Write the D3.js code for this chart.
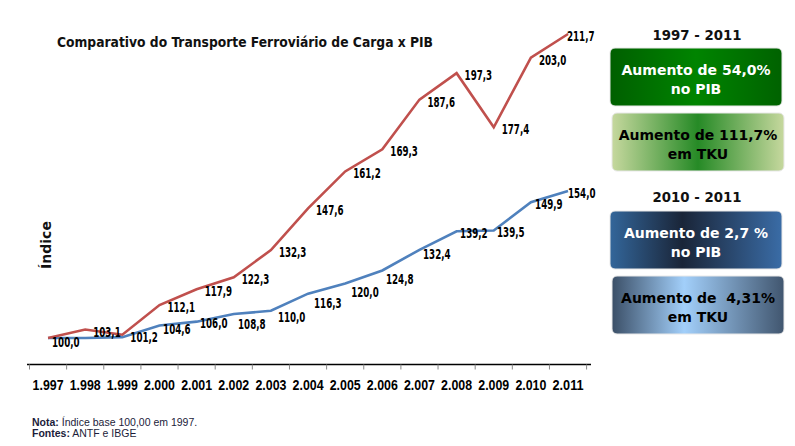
<!DOCTYPE html>
<html><head><meta charset="utf-8">
<script src="https://cdn.jsdelivr.net/npm/d3@7"></script>
<style>body{margin:0;background:#fff}svg{display:block}</style>
</head><body>
<svg id="c" width="795" height="446"></svg>
<script>
// ---- data ----
const years = ["1.997","1.998","1.999","2.000","2.001","2.002","2.003","2.004","2.005","2.006","2.007","2.008","2.009","2.010","2.011"];
const tku = [100.0,103.1,101.2,112.1,117.9,122.3,132.3,147.6,161.2,169.3,187.6,197.3,177.4,203.0,211.7];
const pib = [100.0,100.0,100.3,104.6,106.0,108.8,110.0,116.3,120.0,124.8,132.4,139.2,139.5,149.9,154.0];
const tkuLabelled = [1,2,3,4,5,6,7,8,9,10,11,12,13,14];
const pibLabelled = [0,3,4,5,6,7,8,9,10,11,12,13,14];
const title = "Comparativo do Transporte Ferroviário de Carga x PIB";
const yTitle = "Índice";
const panels = [
  {head:"1997 - 2011", boxes:[["Aumento de 54,0%","no PIB"],["Aumento de 111,7%","em TKU"]]},
  {head:"2010 - 2011", boxes:[["Aumento de 2,7 %","no PIB"],["Aumento de  4,31%","em TKU"]]}
];

// ---- layout (label nudges, not data) ----
const tkuNudge = i => i === 14 ? [-1,2] : [8,2];
const pibNudgeT = {0:[4,4],3:[3.6,3.5],4:[3.4,1.5],5:[4.3,10],6:[7,6.2],7:[6,9.4],8:[6,8.4],9:[3.7,8.5],10:[3.6,4.2],11:[3.5,1.7],12:[3.3,1.5],13:[4.2,1.8],14:[0,2]};
const pibNudge = i => pibNudgeT[i];

const svg = d3.select("#c");
const x = d3.scaleBand().domain(years).range([29.5,586.6]);
const y = d3.scaleLinear().domain([90,220]).range([365.2,11.4]);
const cx = d => x(d) + x.bandwidth()/2;
const fmt = v => d3.format(".1f")(v).replace(".", ",");

// title
svg.append("text").attr("x",57).attr("y",46.5).text(title)
  .attr("font-family","DejaVu Sans Condensed, Liberation Sans, sans-serif")
  .attr("font-weight","bold").attr("font-size",14.5).attr("fill","#111")
  .attr("textLength",376).attr("lengthAdjust","spacingAndGlyphs");

// y title
svg.append("text").attr("transform","translate(51,245) rotate(-90)")
  .attr("text-anchor","middle").text(yTitle)
  .attr("font-family","DejaVu Sans, sans-serif").attr("font-weight","bold").attr("font-size",14).attr("fill","#111");

// x axis
const ax = svg.append("g").attr("transform","translate(0,364.5)");
ax.call(d3.axisBottom(x).tickSize(0).tickPadding(15));
ax.select(".domain").remove();
ax.selectAll("text").attr("font-family","Liberation Sans, Arial, sans-serif")
  .attr("font-weight","bold").attr("font-size",15).attr("fill","#000")
  .attr("textLength",31).attr("lengthAdjust","spacingAndGlyphs");
ax.append("line").attr("x1",27).attr("x2",591).attr("y1",0).attr("y2",0).attr("stroke","#000").attr("stroke-width",1.5);
const edges = years.map(d=>x(d)).concat([x(years[years.length-1])+x.bandwidth()]);
ax.selectAll("line.tk").data(edges).enter().append("line").attr("class","tk")
  .attr("x1",d=>d).attr("x2",d=>d).attr("y1",0).attr("y2",5).attr("stroke","#888").attr("stroke-width",1);

// lines
const line = d3.line().x((d,i)=>cx(years[i])).y(d=>y(d));
svg.append("path").datum(pib).attr("d",line).attr("fill","none").attr("stroke","#4f81bd").attr("stroke-width",2.6);
svg.append("path").datum(tku).attr("d",line).attr("fill","none").attr("stroke","#c0504d").attr("stroke-width",2.6);

// labels
function labels(arr, idx, nudge){
  svg.append("g").selectAll("text").data(idx).enter().append("text")
    .attr("x",i=>cx(years[i])+nudge(i)[0]).attr("y",i=>y(arr[i])+nudge(i)[1])
    .attr("dominant-baseline","central")
    .attr("font-family","DejaVu Sans Condensed, Liberation Sans Narrow, sans-serif")
    .attr("font-weight","bold")
    .attr("font-size",13.5).attr("fill","#000")
    .attr("textLength",27.5).attr("lengthAdjust","spacingAndGlyphs")
    .text(i=>fmt(arr[i]));
}
labels(pib, pibLabelled, pibNudge);
labels(tku, tkuLabelled, tkuNudge);

// notes
const note = svg.append("g").attr("font-family","Liberation Sans, Arial, sans-serif").attr("font-size",10.5).attr("fill","#1c1c3a");
const n1 = note.append("text").attr("x",32).attr("y",425.5);
n1.append("tspan").attr("font-weight","bold").text("Nota:");
n1.append("tspan").text(" Índice base 100,00 em 1997.");
const n2 = note.append("text").attr("x",32).attr("y",436.5);
n2.append("tspan").attr("font-weight","bold").text("Fontes:");
n2.append("tspan").text(" ANTF e IBGE");

// panel gradients
const defs = svg.append("defs");
const grads = [
  ["g1",[[0,"#005f00"],[0.5,"#008400"],[1,"#006200"]]],
  ["g2",[[0,"#c6d89e"],[0.5,"#268a26"],[1,"#c6d89e"]]],
  ["g3",[[0,"#33669a"],[0.42,"#1a2538"],[1,"#3a6ca6"]]],
  ["g4",[[0,"#3b4f67"],[0.42,"#a2cffa"],[1,"#41566f"]]]
];
grads.forEach(([id,stops])=>{
  const g = defs.append("linearGradient").attr("id",id).attr("x1","0").attr("x2","1").attr("y1","0").attr("y2","0");
  stops.forEach(s=>g.append("stop").attr("offset",s[0]).attr("stop-color",s[1]));
});
const boxGeo = [[610,48],[612,113],[610,211],[612,276]];
const heads = [35,197];
const textCol = ["#fff","#000","#fff","#000"];
panels.forEach((p,pi)=>{
  svg.append("text").attr("x",697).attr("y",heads[pi]).attr("dominant-baseline","central").attr("text-anchor","middle")
    .attr("font-family","DejaVu Sans, sans-serif").attr("font-weight","bold").attr("font-size",14.5).attr("fill","#111")
    .attr("textLength",89).attr("lengthAdjust","spacingAndGlyphs").text(p.head);
  p.boxes.forEach((b,bi)=>{
    const k = pi*2+bi, [bx,by] = boxGeo[k];
    svg.append("rect").attr("x",bx).attr("y",by).attr("width",172).attr("height",58).attr("rx",5)
      .attr("fill",`url(#g${k+1})`).attr("stroke","#e8e8e8").attr("stroke-width",1);
    b.forEach((t,li)=>{
      svg.append("text").attr("x",bx+86).attr("y",by+22+li*18.5).attr("dominant-baseline","central").attr("text-anchor","middle")
        .attr("font-family","DejaVu Sans, sans-serif").attr("font-weight","bold").attr("font-size",14)
        .attr("fill",textCol[k]).style("white-space","pre").text(t);
    });
  });
});
</script>
</body></html>
